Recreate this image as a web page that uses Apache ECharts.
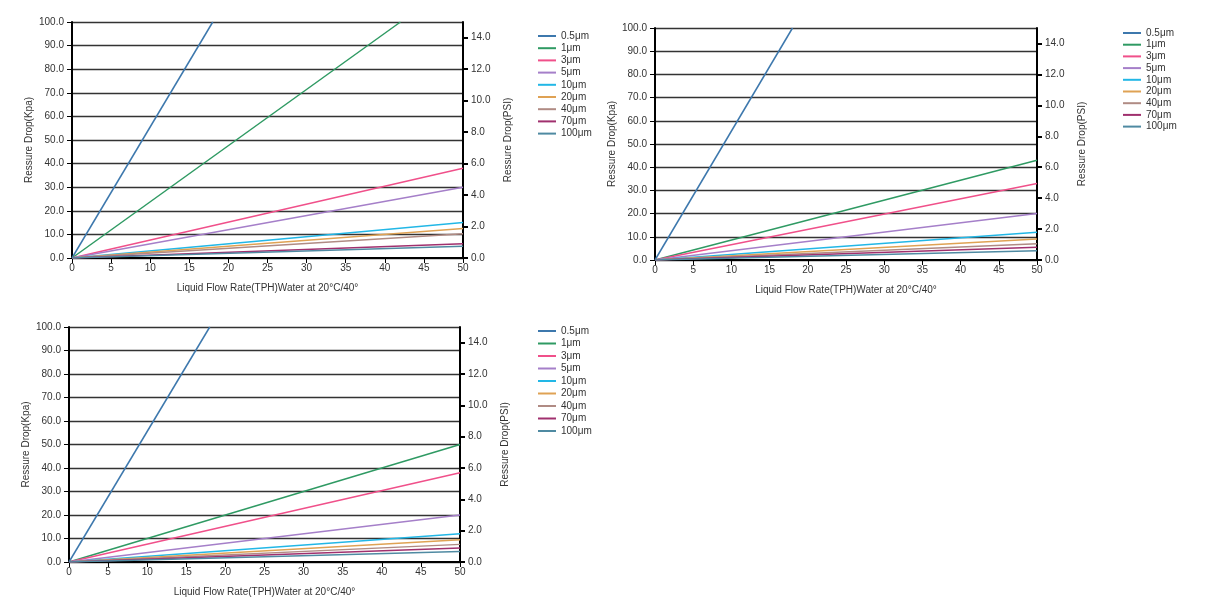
<!DOCTYPE html><html><head><meta charset="utf-8">
<script src="https://cdn.jsdelivr.net/npm/echarts@6/dist/echarts.min.js"></script>
<style>html,body{margin:0;background:#fff}#c{width:1206px;height:615px}</style></head><body><div id="c"></div>
<script>
const names=['0.5μm','1μm','3μm','5μm','10μm','20μm','40μm','70μm','100μm'];
const colors=['#3d78ad','#2f9a63','#f0508a','#a57fc9','#22b7e6','#dfa254','#b08b84','#a0306e','#4f8aa2'];
// end points of each straight line (starting at 0,0)
const endX1=[18,42,50,50,50,50,50,50,50];
const endY1=[100,100,38,30,15,12.5,10.3,6,5];
const endX2=[18,50,50,50,50,50,50,50,50];
const endY2=[100,43,33,20,12,9,7,5.5,4];
const endX3=[18,50,50,50,50,50,50,50,50];
const endY3=[100,50,38,20,12,9.5,7.5,6,4.5];
const charts=[
 {ex:endX1,ey:endY1,g:{left:72,width:391,top:22,height:236},lg:{left:533,top:26,gap:2.2}},
 {ex:endX2,ey:endY2,g:{left:655,width:382,top:28,height:232},lg:{left:1118,top:23,gap:1.7}},
 {ex:endX3,ey:endY3,g:{left:69,width:391,top:327,height:235},lg:{left:533,top:321,gap:2.5}}
];
const font='Liberation Sans';
const opt={animation:false,grid:[],xAxis:[],yAxis:[],legend:[],series:[]};
charts.forEach((c,i)=>{
 opt.grid.push(c.g);
 opt.xAxis.push({type:'value',gridIndex:i,min:0,max:50,interval:5,name:'Liquid Flow Rate(TPH)Water at 20°C/40°',nameLocation:'middle',nameGap:25,
  nameTextStyle:{fontSize:10,color:'#333',fontFamily:font},axisLine:{lineStyle:{color:'#000',width:2}},axisTick:{show:true,lineStyle:{color:'#000'}},
  axisLabel:{fontSize:10,color:'#333',margin:5,fontFamily:font},splitLine:{show:false}});
 opt.yAxis.push({type:'value',gridIndex:i,min:0,max:100,interval:10,name:'Ressure Drop(Kpa)',nameLocation:'middle',nameGap:38,
  nameTextStyle:{fontSize:10,color:'#333',fontFamily:font},axisLine:{show:true,lineStyle:{color:'#000',width:2}},axisTick:{show:true,lineStyle:{color:'#000'}},
  axisLabel:{fontSize:10,color:'#333',formatter:v=>v.toFixed(1),fontFamily:font},splitLine:{lineStyle:{color:'#333',width:1.3}}});
 opt.yAxis.push({type:'value',gridIndex:i,position:'right',min:0,max:15,interval:2,name:'Ressure Drop(PSI)',nameLocation:'middle',nameGap:40,
  nameTextStyle:{fontSize:10,color:'#333',fontFamily:font},axisLine:{show:true,lineStyle:{color:'#000',width:2}},axisTick:{show:true,inside:false,length:5,lineStyle:{color:'#000',width:2}},
  axisLabel:{fontSize:10,color:'#333',showMaxLabel:false,formatter:v=>v.toFixed(1),fontFamily:font},splitLine:{show:false}});
 opt.legend.push({left:c.lg.left,top:c.lg.top,orient:'vertical',itemGap:c.lg.gap,itemWidth:18,itemHeight:8,icon:'path://M0,3h18v2h-18z',
  textStyle:{fontSize:10,color:'#333',fontFamily:font},data:names});
 names.forEach((n,k)=>{
  opt.series.push({type:'line',name:n,xAxisIndex:i,yAxisIndex:i*2,data:[[0,0],[c.ex[k],c.ey[k]]],symbol:'none',
   lineStyle:{color:colors[k],width:1.5},itemStyle:{color:colors[k]}});
 });
});
echarts.init(document.getElementById('c')).setOption(opt);
</script></body></html>
